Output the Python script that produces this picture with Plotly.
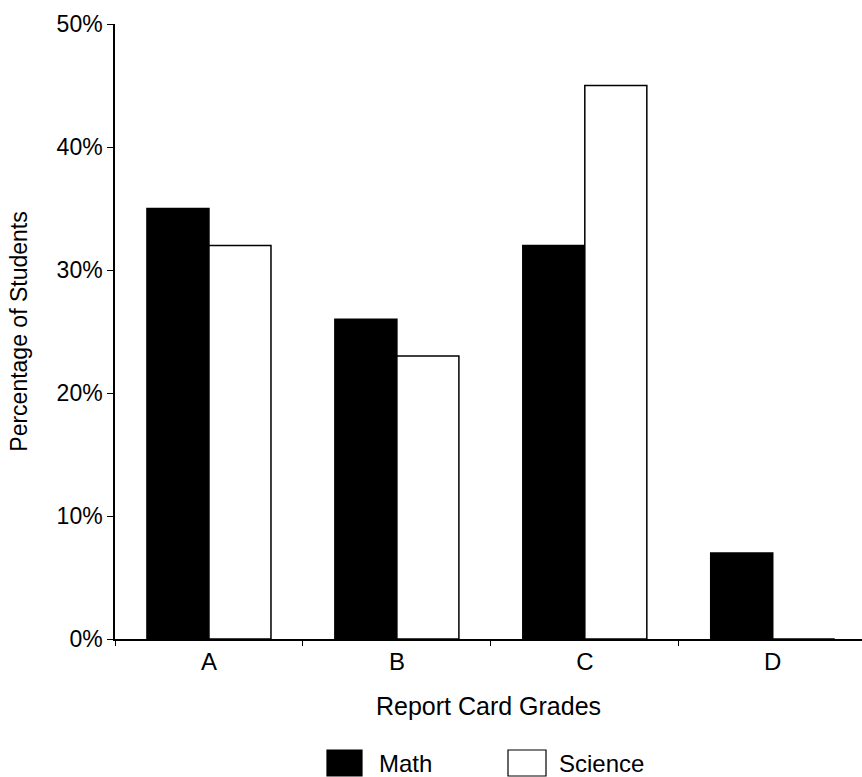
import plotly.graph_objects as go

# Report card grade distribution by subject
grades = ["A", "B", "C", "D"]
math_pct = [35, 26, 32, 7]
science_pct = [32, 23, 45, 0]
y_ticks = [0, 10, 20, 30, 40, 50]
y_tick_text = [f"{v}%" for v in y_ticks]

FONT = "Liberation Sans, Arial, sans-serif"
BLACK = "#000000"

fig = go.Figure()
fig.add_trace(go.Bar(
    x=grades, y=math_pct, name="Math",
    marker=dict(color=BLACK, line=dict(color=BLACK, width=1.5)),
    showlegend=False,
))
fig.add_trace(go.Bar(
    x=grades, y=science_pct, name="Science",
    marker=dict(color="#ffffff", line=dict(color=BLACK, width=1.5)),
    showlegend=False,
))

fig.update_layout(
    width=862, height=777,
    margin=dict(l=115, r=0, t=24, b=138),
    paper_bgcolor="white", plot_bgcolor="white",
    barmode="group", bargap=0.34, bargroupgap=0,
    font=dict(family=FONT, color=BLACK, size=24),
    xaxis=dict(
        type="category", range=[-0.5, 3.475],
        showline=True, linecolor=BLACK, linewidth=1.5,
        ticks="outside", tickson="boundaries", ticklen=5, tickwidth=1.2, tickcolor=BLACK,
        showgrid=False, zeroline=False,
        tickfont=dict(size=24),
        title=dict(text="Report Card Grades", font=dict(size=25), standoff=24),
    ),
    yaxis=dict(
        range=[0, 50], tickmode="array", tickvals=y_ticks, ticktext=y_tick_text,
        showline=True, linecolor=BLACK, linewidth=1.5,
        ticks="outside", ticklen=6, tickwidth=1.2, tickcolor=BLACK,
        showgrid=False, zeroline=False,
        tickfont=dict(size=23),
        title=dict(text="Percentage of Students", font=dict(size=23), standoff=23),
    ),
    # companion axes that give the ticks their inner half
    xaxis2=dict(
        overlaying="x", range=[-0.5, 3.475], tickvals=[0.5, 1.5, 2.5],
        ticks="inside", ticklen=5, tickwidth=1.2, tickcolor=BLACK,
        showticklabels=False, showgrid=False, zeroline=False, showline=False,
    ),
    yaxis2=dict(
        overlaying="y", range=[0, 50], tickvals=y_ticks, side="left",
        ticks="inside", ticklen=4, tickwidth=1.2, tickcolor=BLACK,
        showticklabels=False, showgrid=False, zeroline=False, showline=False,
    ),
)

# Legend swatches and labels below the axis title
def px_to_paper_x(px):
    return (px - 115) / 747

def px_to_paper_y(py):
    return (639 - py) / 615

legend_items = [("Math", BLACK, 327, 362, 377), ("Science", "#ffffff", 508, 546, 557)]
for label, fill, x0, x1, tx in legend_items:
    fig.add_shape(
        type="rect", xref="paper", yref="paper",
        x0=px_to_paper_x(x0), x1=px_to_paper_x(x1),
        y0=px_to_paper_y(776), y1=px_to_paper_y(750),
        fillcolor=fill, line=dict(color=BLACK, width=1.2),
    )
    fig.add_annotation(
        xref="paper", yref="paper", x=px_to_paper_x(tx), y=px_to_paper_y(764),
        text=label, showarrow=False, xanchor="left", yanchor="middle",
        font=dict(size=24, family=FONT, color=BLACK),
    )

fig.write_html("out.html")
